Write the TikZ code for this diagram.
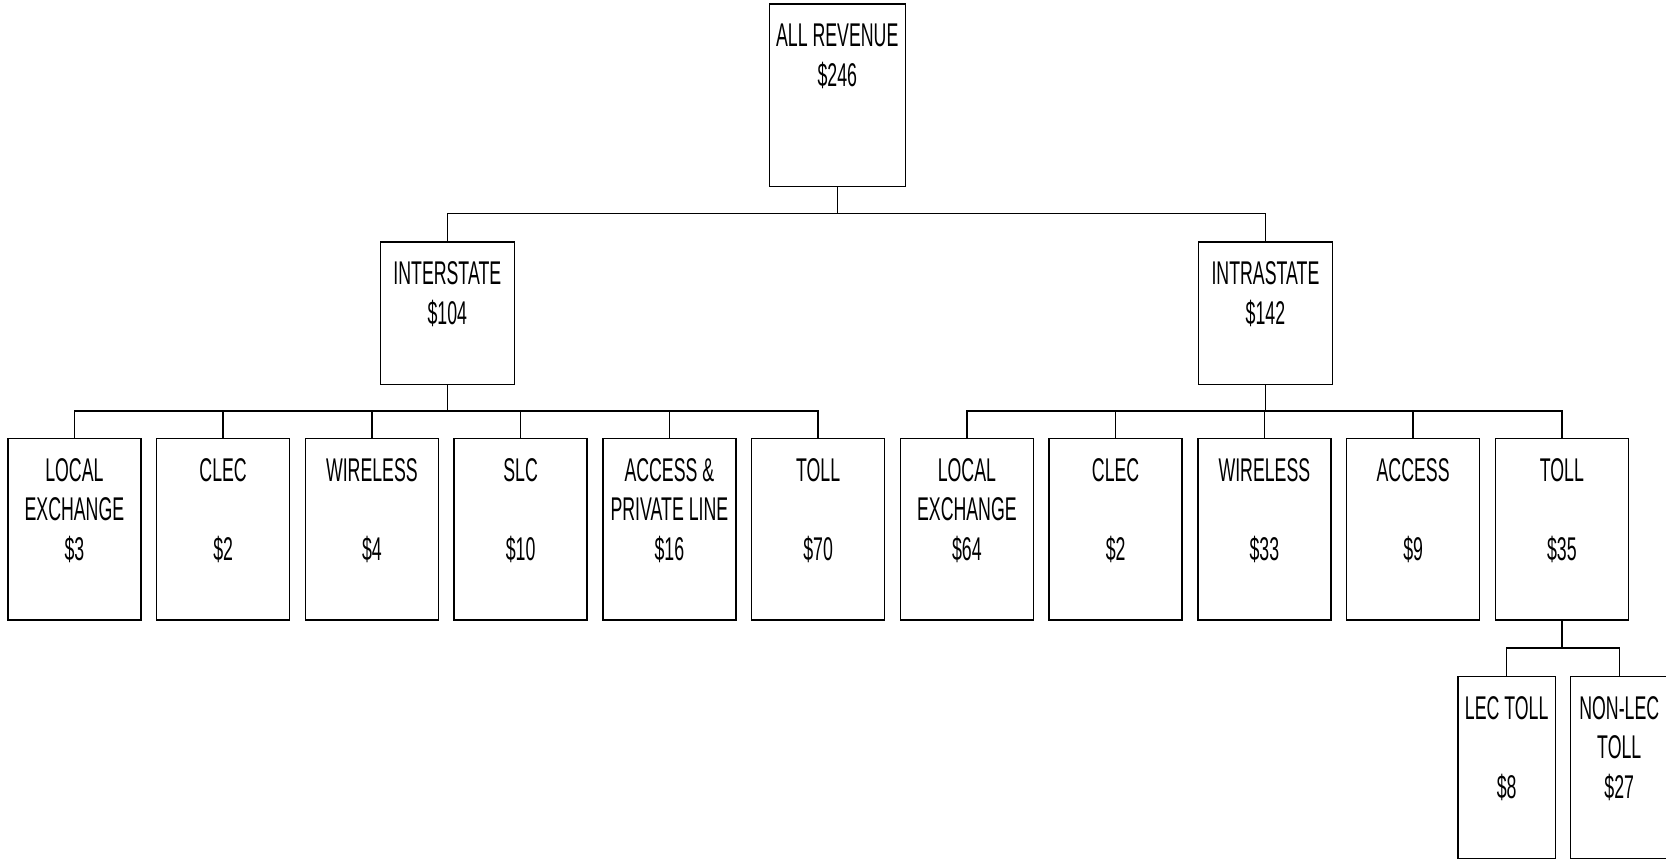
\documentclass[tikz,border=0pt]{standalone}
\usepackage{fontspec}
\setmainfont[FakeStretch=0.54]{Liberation Sans}
\newcommand{\bx}[3]{\parbox[c][#2][t]{#1}{\centering\fontsize{8.8pt}{10.66pt}\selectfont\rule{0pt}{0.40cm}#3}}
\begin{document}
\begin{tikzpicture}[box/.style={draw,anchor=north,inner sep=0pt}]
\useasboundingbox (0,0) rectangle (15.68,-8.094);
\node[box](all) at (7.88,-0.03){\bx{1.28cm}{1.72cm}{ALL REVENUE\\\$246}};
\node[box](inter) at (4.21,-2.27){\bx{1.26cm}{1.34cm}{INTERSTATE\\\$104}};
\node[box](intra) at (11.91,-2.27){\bx{1.26cm}{1.34cm}{INTRASTATE\\\$142}};
\node[box](ile) at (0.70,-4.12){\bx{1.25cm}{1.71cm}{LOCAL\\EXCHANGE\\\$3}};
\node[box](iclec) at (2.10,-4.12){\bx{1.25cm}{1.71cm}{CLEC\\\mbox{}\\\$2}};
\node[box](iwl) at (3.50,-4.12){\bx{1.25cm}{1.71cm}{WIRELESS\\\mbox{}\\\$4}};
\node[box](islc) at (4.90,-4.12){\bx{1.25cm}{1.71cm}{SLC\\\mbox{}\\\$10}};
\node[box](iapl) at (6.30,-4.12){\bx{1.25cm}{1.71cm}{ACCESS \&\\PRIVATE LINE\\\$16}};
\node[box](itoll) at (7.70,-4.12){\bx{1.25cm}{1.71cm}{TOLL\\\mbox{}\\\$70}};
\node[box](sle) at (9.10,-4.12){\bx{1.25cm}{1.71cm}{LOCAL\\EXCHANGE\\\$64}};
\node[box](sclec) at (10.50,-4.12){\bx{1.25cm}{1.71cm}{CLEC\\\mbox{}\\\$2}};
\node[box](swl) at (11.90,-4.12){\bx{1.25cm}{1.71cm}{WIRELESS\\\mbox{}\\\$33}};
\node[box](sacc) at (13.30,-4.12){\bx{1.25cm}{1.71cm}{ACCESS\\\mbox{}\\\$9}};
\node[box](stoll) at (14.70,-4.12){\bx{1.25cm}{1.71cm}{TOLL\\\mbox{}\\\$35}};
\node[box](lectoll) at (14.18,-6.36){\bx{0.92cm}{1.715cm}{LEC TOLL\\\mbox{}\\\$8}};
\node[box](nonlec) at (15.24,-6.36){\bx{0.92cm}{1.715cm}{NON-LEC\\TOLL\\\$27}};
\foreach \n in {inter,intra}\draw(\n.north)--++(0,0.26)-|(all.south);
\foreach \n in {ile,iclec,iwl,islc,iapl,itoll}\draw(\n.north)--++(0,0.25)-|(inter.south);
\foreach \n in {sle,sclec,swl,sacc,stoll}\draw(\n.north)--++(0,0.25)-|(intra.south);
\foreach \n in {lectoll,nonlec}\draw(\n.north)--++(0,0.26)-|(stoll.south);
\end{tikzpicture}
\end{document}
